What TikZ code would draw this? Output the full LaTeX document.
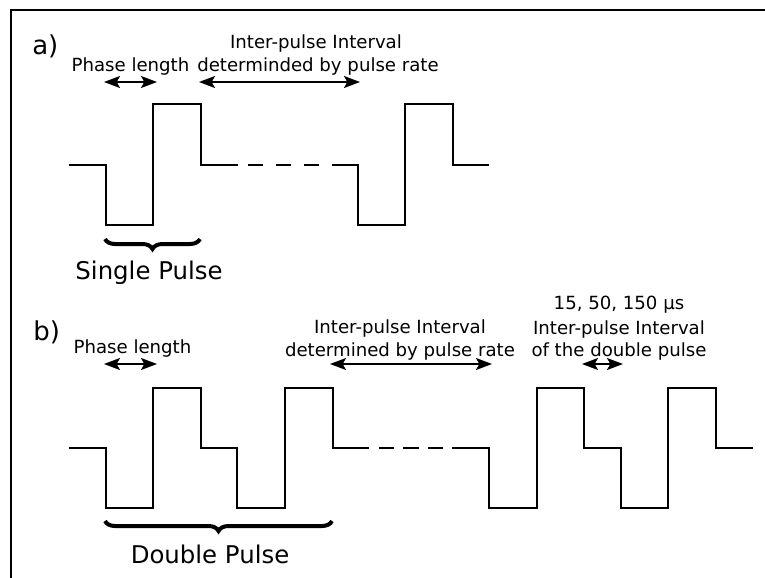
\documentclass[tikz,border=0pt]{standalone}
\usepackage{fontspec}
\setmainfont{DejaVu Sans}
\usetikzlibrary{arrows.meta,decorations.pathreplacing}
\begin{document}
\begin{tikzpicture}[x=0.75pt,y=-0.75pt,
  wave/.style={line width=0.9pt, line join=miter, line cap=rect},
  dim/.style={line width=1.2pt, {Stealth[length=12pt,width=9pt,inset=2.5pt]}-{Stealth[length=12pt,width=9pt,inset=2.5pt]}},
  small/.style={font=\fontsize{13.6}{16.5}\selectfont, inner sep=0pt, anchor=base},
  big/.style={font=\fontsize{18.3}{22}\selectfont, inner sep=0pt, anchor=base},
  lbl/.style={font=\fontsize{19.5}{23}\selectfont, inner sep=0pt, anchor=base west},
  bracestyle/.style={decorate, decoration={brace, mirror, amplitude=7.5pt}, line width=3pt}]
\useasboundingbox (0,0) rectangle (765,578);
% frame
\draw[line width=1.5pt] (765,10) -- (11,10) -- (11,578);

% ---------- panel a ----------
\node[lbl] (la) at (32,54) {a)};
\node[small] (ta1) at (316,48) {Inter-pulse Interval};
\node[small] (ta2) at (318,71) {determinded by pulse rate};
\node[small] (ta3) at (130.5,71) {Phase length};

\coordinate (pa1) at (104,82);
\coordinate (pa2) at (157,82);
\coordinate (ia1) at (199,82);
\coordinate (ia2) at (360,82);
\draw[dim] (pa1) -- (pa2);
\draw[dim] (ia1) -- (ia2);

\draw[wave] (70,165) -- (106,165) -- (106,225) -- (153,225) -- (153,104) -- (201,104) -- (201,165) -- (237,165);
\draw[wave] (249,165) -- (262,165) (277,165) -- (290,165) (305,165) -- (318,165);
\draw[wave] (333,165) -- (358,165) -- (358,225) -- (405,225) -- (405,104) -- (453,104) -- (453,165) -- (488,165);

\coordinate (ba1) at (105,239);
\coordinate (ba2) at (200,239);
\draw[bracestyle] (ba1) -- (ba2);
\node[big] (sp) at (149,279) {Single Pulse};

% ---------- panel b ----------
\node[lbl] (lb) at (33,340) {b)};
\node[small] (tb3) at (132.5,353) {Phase length};
\node[small] (tb1) at (400,333) {Inter-pulse Interval};
\node[small] (tb2) at (400,356) {determined by pulse rate};
\node[small] (tc0) at (619,309) {15, 50, 150 µs};
\node[small] (tc1) at (619,334) {Inter-pulse Interval};
\node[small] (tc2) at (619,356) {of the double pulse};

\coordinate (pb1) at (104,364);
\coordinate (pb2) at (157,364);
\coordinate (ib1) at (330,364);
\coordinate (ib2) at (492,364);
\coordinate (db1) at (582,364);
\coordinate (db2) at (623,364);
\draw[dim] (pb1) -- (pb2);
\draw[dim] (ib1) -- (ib2);
\draw[dim] (db1) -- (db2);

\draw[wave] (70,448) -- (106,448) -- (106,508) -- (153,508) -- (153,388) -- (201,388) -- (201,448)
  -- (237,448) -- (237,508) -- (285,508) -- (285,388) -- (333,388) -- (333,448) -- (368,448);
\draw[wave] (380,448) -- (393,448) (404,448) -- (418,448) (429,448) -- (442,448);
\draw[wave] (453,448) -- (489,448) -- (489,508) -- (537,508) -- (537,388) -- (584,388) -- (584,448)
  -- (621,448) -- (621,508) -- (668,508) -- (668,388) -- (716,388) -- (716,448) -- (752,448);

\coordinate (bb1) at (105,521);
\coordinate (bb2) at (332,521);
\draw[bracestyle] (bb1) -- (bb2);
\node[big] (dp) at (210,563) {Double Pulse};
\end{tikzpicture}
\end{document}
